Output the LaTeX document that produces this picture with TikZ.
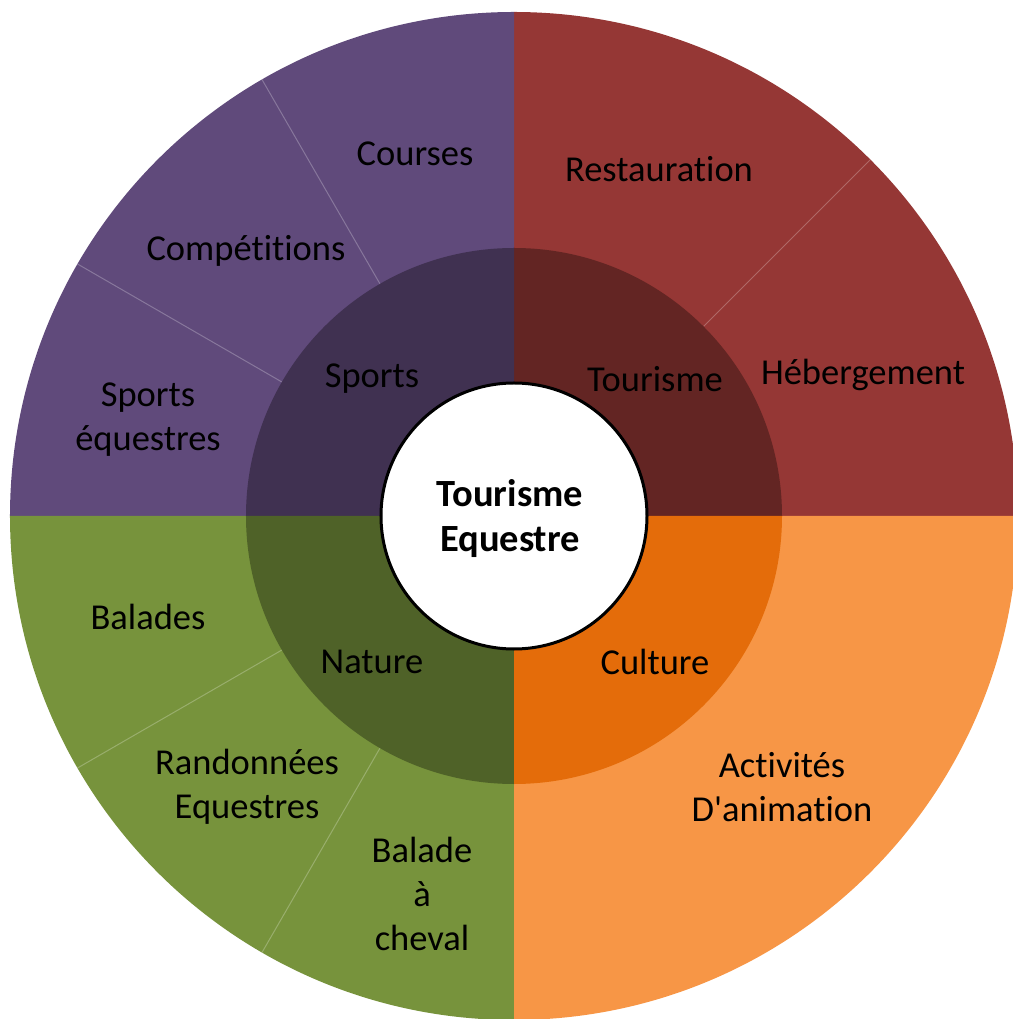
\documentclass[tikz,border=0pt]{standalone}
\usepackage{fontspec}
\newfontfamily\calib{Carlito}[RawFeature={-liga;-clig;-dlig;-calt;-rlig}]
\definecolor{purpO}{RGB}{96,74,123}
\definecolor{purpI}{RGB}{64,49,81}
\definecolor{redO}{RGB}{149,55,53}
\definecolor{redI}{RGB}{99,37,35}
\definecolor{greenO}{RGB}{119,147,60}
\definecolor{greenI}{RGB}{79,98,40}
\definecolor{orangeO}{RGB}{247,150,70}
\definecolor{orangeI}{RGB}{228,108,10}
\begin{document}
\begin{tikzpicture}[x=1pt,y=1pt,
  lbl/.style={text=black,align=center,font=\calib\fontsize{36.5}{44}\selectfont,inner sep=0pt},
  divider/.style={draw=white,draw opacity=0.25,line width=1pt},
  hub/.style={circle,fill=white,draw=black,line width=3pt,minimum size=266pt,inner sep=0pt}]
\useasboundingbox (-514,-503) rectangle (498,516);
\def\R{504}
\def\r{268}
% outer ring
\fill[redO] (0,0) -- (0:\R) arc[start angle=0,end angle=90,radius=\R] -- cycle;
\fill[purpO] (0,0) -- (90:\R) arc[start angle=90,end angle=180,radius=\R] -- cycle;
\fill[greenO] (0,0) -- (180:\R) arc[start angle=180,end angle=270,radius=\R] -- cycle;
\fill[orangeO] (0,0) -- (270:\R) arc[start angle=270,end angle=360,radius=\R] -- cycle;
% dividers in outer ring
\foreach \a in {45,120,150,210,240}{\draw[divider] (\a:\r) -- (\a:\R);}
% inner ring
\fill[redI] (0,0) -- (0:\r) arc[start angle=0,end angle=90,radius=\r] -- cycle;
\fill[purpI] (0,0) -- (90:\r) arc[start angle=90,end angle=180,radius=\r] -- cycle;
\fill[greenI] (0,0) -- (180:\r) arc[start angle=180,end angle=270,radius=\r] -- cycle;
\fill[orangeI] (0,0) -- (270:\r) arc[start angle=270,end angle=360,radius=\r] -- cycle;
% hub
\node[hub] (hub) at (0,0) {};
\node[align=center,inner sep=0pt,font=\calib\fontsize{38.5}{45}\selectfont\bfseries] (hubtext) at (-4,-3) {Tourisme\\Equestre};
% inner labels
\node[lbl] (sports) at (-142,137) {Sports};
\node[lbl] (tourisme) at (141,137) {Tourisme};
\node[lbl] (nature) at (-142,-146) {Nature};
\node[lbl] (culture) at (141,-146) {Culture};
% outer labels
\node[lbl] (courses) at (-99,362) {Courses};
\node[lbl] (competitions) at (-268,265) {Compétitions};
\node[lbl] (sportseq) at (-366,96) {Sports\\équestres};
\node[lbl] (restauration) at (145,347) {Restauration};
\node[lbl] (hebergement) at (349,141) {Hébergement};
\node[lbl] (balades) at (-366,-101) {Balades};
\node[lbl] (randonnees) at (-267,-271) {Randonnées\\Equestres};
\node[lbl] (baladecheval) at (-92,-378) {Balade\\à\\cheval};
\node[lbl] (activites) at (268,-271) {Activités\\D'animation};
\end{tikzpicture}
\end{document}
